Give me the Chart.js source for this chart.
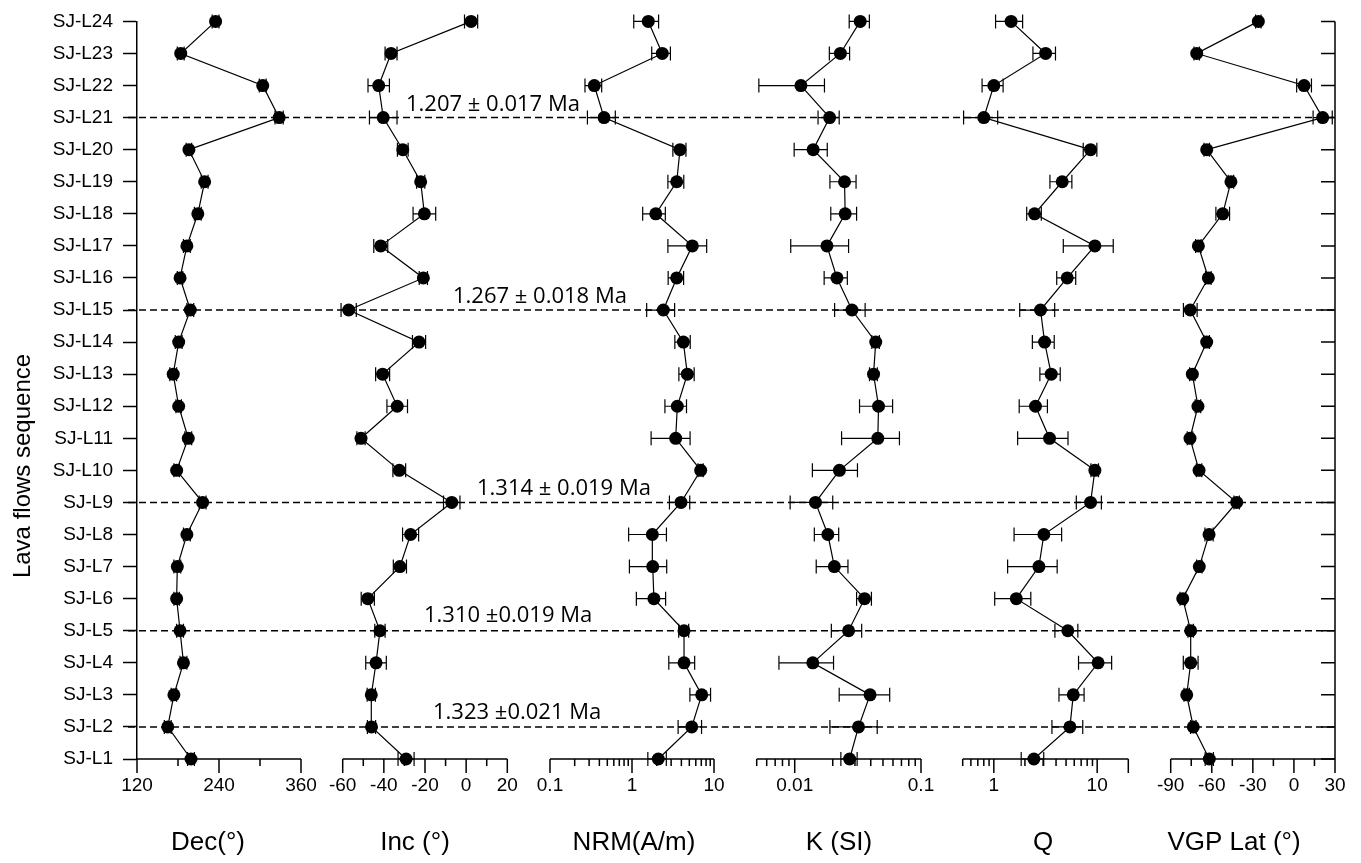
<!DOCTYPE html>
<html>
<head>
<meta charset="utf-8">
<script src="https://cdn.jsdelivr.net/npm/chart.js@4.4.1/dist/chart.umd.min.js"></script>
<style>
  html, body { margin: 0; padding: 0; background: #fff; }
  canvas { display: block; }
</style>
</head>
<body>
<canvas id="chart" width="1361" height="863"></canvas>
<script>
// ===== Datos: secuencia de flujos (de abajo hacia arriba) =====
const flows = ['SJ-L1', 'SJ-L2', 'SJ-L3', 'SJ-L4', 'SJ-L5', 'SJ-L6', 'SJ-L7', 'SJ-L8',
  'SJ-L9', 'SJ-L10', 'SJ-L11', 'SJ-L12', 'SJ-L13', 'SJ-L14', 'SJ-L15', 'SJ-L16',
  'SJ-L17', 'SJ-L18', 'SJ-L19', 'SJ-L20', 'SJ-L21', 'SJ-L22', 'SJ-L23', 'SJ-L24'];

const dec    = [199, 165, 174, 188, 183, 178, 179, 193, 216, 178, 195, 181, 173, 181, 198, 183, 193, 209, 219, 196, 328, 304, 184, 235];
const decErr = [5, 5, 4, 5, 5, 4, 5, 5, 5, 4, 5, 4, 5, 5, 5, 4, 5, 5, 5, 4, 6, 5, 5, 5];

const inc    = [-29.2, -46, -46.1, -43.8, -41.9, -47.8, -32.2, -27, -7, -32.5, -51.1, -33.5, -40.6, -22.9, -57.1, -20.8, -41.5, -20.3, -22.1, -30.8, -40.3, -42.5, -36.5, 2.4];
const incErr = [3.9, 2, 2, 5, 2.5, 3.2, 3.2, 3.9, 4, 3.1, 2, 5, 3.4, 3.2, 3.7, 2, 3.4, 5.5, 2, 2.6, 6.7, 5.2, 2.9, 3.2];

const nrm    = [2.09, 5.35, 7.08, 4.31, 4.31, 1.85, 1.79, 1.77, 3.96, 6.88, 3.41, 3.57, 4.73, 4.23, 2.41, 3.51, 5.44, 1.95, 3.51, 3.85, 0.456, 0.347, 2.34, 1.58];
const nrmErr = [0.53, 1.7, 2, 1.5, 0.6, 0.72, 0.86, 0.86, 1.1, 0.5, 1.7, 1.05, 1.0, 0.9, 0.9, 0.75, 2.7, 0.6, 0.77, 0.7, 0.17, 0.08, 0.6, 0.53];

const kSI    = [0.0272, 0.032, 0.0395, 0.0139, 0.0267, 0.0357, 0.0206, 0.0183, 0.0146, 0.0226, 0.0455, 0.0461, 0.0421, 0.0438, 0.0284, 0.0216, 0.018, 0.0251, 0.0248, 0.014, 0.0189, 0.0112, 0.023, 0.033];
const kErr   = [0.004, 0.013, 0.017, 0.0064, 0.0072, 0.0048, 0.0058, 0.004, 0.0054, 0.0088, 0.022, 0.0135, 0.003, 0.003, 0.0077, 0.0045, 0.0087, 0.0058, 0.0058, 0.0041, 0.0036, 0.006, 0.0042, 0.006];

const qRatio = [2.44, 5.45, 5.87, 10.2, 5.2, 1.65, 2.73, 3.05, 8.63, 9.5, 3.46, 2.53, 3.59, 3.1, 2.83, 5.13, 9.5, 2.48, 4.59, 8.63, 0.8, 1.0, 3.17, 1.47];
const qErr   = [0.6, 1.8, 1.6, 3.6, 1.3, 0.63, 1.37, 1.48, 2.35, 0.8, 1.76, 0.77, 0.8, 0.74, 1.05, 1.07, 4.8, 0.4, 1.1, 1.3, 0.29, 0.23, 0.78, 0.43];

const vgp    = [-61.8, -73.5, -78.3, -75.4, -75.4, -81.2, -69.1, -62, -41.8, -69.3, -75.9, -70.1, -74.2, -63.7, -75.7, -62.5, -69.8, -52, -46, -63.7, 21, 7.4, -71, -26];
const vgpErr = [3, 2, 2, 5.4, 2, 2, 2, 3, 2, 2, 2, 2, 2, 2, 5, 2, 2, 5, 2, 2, 7, 5.4, 2, 2];

// marcas de los ejes
const decTicks = [120, 180, 240, 300, 360];
const decLabels = [120, 240, 360];
const incTicks = [-60, -50, -40, -30, -20, -10, 0, 10, 20];
const incLabels = [-60, -40, -20, 0, 20];
const nrmTicks = [0.1, 0.2, 0.3, 0.4, 0.5, 0.6, 0.7, 0.8, 0.9, 1, 2, 3, 4, 5, 6, 7, 8, 9, 10];
const nrmLabels = [0.1, 1, 10];
const kTicks = [0.005, 0.006, 0.007, 0.008, 0.009, 0.01, 0.02, 0.03, 0.04, 0.05, 0.06, 0.07, 0.08, 0.09, 0.1];
const kLabels = [0.01, 0.1];
const qTicks = [0.5, 0.6, 0.7, 0.8, 0.9, 1, 2, 3, 4, 5, 6, 7, 8, 9, 10, 20];
const qLabels = [1, 10];
const vgpTicks = [-90, -75, -60, -45, -30, -15, 0, 15, 30];
const vgpLabels = [-90, -60, -30, 0, 30];

// edades
const ageFlows = ['SJ-L21', 'SJ-L15', 'SJ-L9', 'SJ-L5', 'SJ-L2'];
const ageTexts = ['1.207 ± 0.017 Ma', '1.267 ± 0.018 Ma', '1.314 ± 0.019 Ma', '1.310 ±0.019 Ma', '1.323 ±0.021 Ma'];

// ===== Disposición (píxeles) =====
const ageTextPos = [[406, 7], [453, 7], [477, 7], [424, 9], [433, 8]];
const panels = [
  { id: 'xDec', title: 'Dec(°)',     log: false, vals: dec,    errs: decErr, ticks: decTicks, labels: decLabels, long: decLabels, px: [137, 301],     seg: [137, 322],  titleX: 208 },
  { id: 'xInc', title: 'Inc (°)',    log: false, vals: inc,    errs: incErr, ticks: incTicks, labels: incLabels, long: incLabels, px: [342.7, 507.3], seg: [322, 528],  titleX: 415 },
  { id: 'xNrm', title: 'NRM(A/m)',   log: true,  vals: nrm,    errs: nrmErr, ticks: nrmTicks, labels: nrmLabels, long: nrmLabels, px: [550, 714],     seg: [528, 735],  titleX: 634 },
  { id: 'xK',   title: 'K (SI)',     log: true,  vals: kSI,    errs: kErr,   ticks: kTicks,   labels: kLabels,   long: kLabels,   px: [756.7, 921],   seg: [735, 942],  titleX: 839 },
  { id: 'xQ',   title: 'Q',          log: true,  vals: qRatio, errs: qErr,   ticks: qTicks,   labels: qLabels,   long: [1, 10, 20], px: [962.7, 1128.3], seg: [942, 1150], titleX: 1043 },
  { id: 'xVgp', title: 'VGP Lat (°)', log: false, vals: vgp,   errs: vgpErr, ticks: vgpTicks, labels: vgpLabels, long: vgpLabels, px: [1170.7, 1335], seg: [1150, 1335], titleX: 1234 }
];

const FONT = '"Liberation Sans", Arial, sans-serif';

function axisRange(p) {
  const lo = p.ticks[0], hi = p.ticks[p.ticks.length - 1];
  const f = p.log ? Math.log10 : (v => v);
  const k = (f(hi) - f(lo)) / (p.px[1] - p.px[0]);
  const a = f(lo) - (p.px[0] - p.seg[0]) * k;
  const b = f(hi) + (p.seg[1] - p.px[1]) * k;
  return p.log ? [Math.pow(10, a), Math.pow(10, b)] : [a, b];
}

const scales = {
  y: {
    type: 'category',
    labels: flows,
    reverse: true,
    offset: false,
    position: 'left',
    border: { display: true, color: '#000', width: 1.5 },
    grid: { drawOnChartArea: false, tickLength: 14, tickColor: '#000', tickWidth: 1.5 },
    ticks: { autoSkip: false, padding: 10, color: '#000', font: { family: FONT, size: 19 } },
    afterFit: s => { s.width = 137; }
  }
};

panels.forEach(p => {
  const [min, max] = axisRange(p);
  scales[p.id] = {
    type: p.log ? 'logarithmic' : 'linear',
    position: 'bottom',
    stack: 'panels',
    stackWeight: p.seg[1] - p.seg[0],
    bounds: 'data',
    min, max,
    border: { display: false },
    grid: { drawOnChartArea: false, drawTicks: true, tickLength: 14, tickColor: 'rgba(0,0,0,0)' },
    ticks: {
      autoSkip: false, maxRotation: 0, padding: 1, color: '#000',
      font: { family: FONT, size: 19 },
      callback: v => p.labels.includes(v) ? String(v) : ''
    },
    afterBuildTicks: s => { s.ticks = p.ticks.map(v => ({ value: v })); },
    afterFit: s => { s.height = 104; }
  };
});

const datasets = panels.map(p => ({
  data: p.vals.map((v, i) => ({ x: v, y: flows[i] })),
  xAxisID: p.id,
  yAxisID: 'y',
  showLine: true,
  borderColor: '#000',
  borderWidth: 1.2,
  pointRadius: 6.5,
  pointBackgroundColor: '#000',
  pointBorderWidth: 0,
  clip: false
}));

// ===== Plugin: líneas de edad, barras de error, ejes y títulos =====
const decor = {
  id: 'decor',
  beforeDatasetsDraw(chart) {
    const { ctx, chartArea: a, scales: sc } = chart;
    const y = sc.y;
    ctx.save();
    ctx.strokeStyle = '#000';
    // líneas discontinuas
    ctx.lineWidth = 1.5;
    ctx.setLineDash([7, 4]);
    ageFlows.forEach(f => {
      const py = y.getPixelForValue(flows.indexOf(f));
      ctx.beginPath();
      ctx.moveTo(128, py);
      ctx.lineTo(a.right + 2, py);
      ctx.stroke();
    });
    // barras de error
    ctx.setLineDash([]);
    ctx.lineWidth = 1.2;
    panels.forEach(p => {
      const s = sc[p.id];
      p.vals.forEach((v, i) => {
        const e = p.errs[i];
        const lo = p.log ? Math.max(v - e, s.min) : v - e;
        const x0 = s.getPixelForValue(lo), x1 = s.getPixelForValue(v + e);
        const py = y.getPixelForValue(i);
        ctx.beginPath();
        ctx.moveTo(x0, py); ctx.lineTo(x1, py);
        ctx.moveTo(x0, py - 7); ctx.lineTo(x0, py + 7);
        ctx.moveTo(x1, py - 7); ctx.lineTo(x1, py + 7);
        ctx.stroke();
      });
    });
    ctx.restore();
  },
  afterDraw(chart) {
    const { ctx, chartArea: a, scales: sc } = chart;
    const y = sc.y;
    ctx.save();
    ctx.strokeStyle = '#000';
    ctx.fillStyle = '#000';
    ctx.lineWidth = 1.5;
    // ejes x de cada panel
    panels.forEach(p => {
      const s = sc[p.id];
      ctx.beginPath();
      ctx.moveTo(s.getPixelForValue(p.ticks[0]), a.bottom);
      ctx.lineTo(s.getPixelForValue(p.ticks[p.ticks.length - 1]), a.bottom);
      p.ticks.forEach(v => {
        const px = s.getPixelForValue(v);
        ctx.moveTo(px, a.bottom);
        ctx.lineTo(px, a.bottom + (p.long.includes(v) ? 14 : 7));
      });
      ctx.stroke();
    });
    // eje derecho con marcas hacia dentro
    ctx.beginPath();
    ctx.moveTo(a.right, a.top);
    ctx.lineTo(a.right, a.bottom);
    flows.forEach((f, i) => {
      const py = y.getPixelForValue(i);
      ctx.moveTo(a.right - 14, py);
      ctx.lineTo(a.right, py);
    });
    ctx.stroke();
    // títulos
    ctx.font = '26px ' + FONT;
    ctx.textAlign = 'center';
    ctx.textBaseline = 'alphabetic';
    panels.forEach(p => ctx.fillText(p.title, p.titleX, 850));
    ctx.save();
    ctx.translate(23, 466);
    ctx.rotate(-Math.PI / 2);
    ctx.textBaseline = 'middle';
    ctx.font = '24px ' + FONT;
    ctx.fillText('Lava flows sequence', 0, 0);
    ctx.restore();
    // etiquetas de edad
    ctx.font = '22px "Open Sans", sans-serif';
    ctx.textAlign = 'left';
    ctx.textBaseline = 'alphabetic';
    ageFlows.forEach((f, k) => {
      const py = y.getPixelForValue(flows.indexOf(f));
      ctx.fillText(ageTexts[k], ageTextPos[k][0], py - ageTextPos[k][1]);
    });
    ctx.restore();
  }
};

new Chart(document.getElementById('chart'), {
  type: 'scatter',
  data: { datasets },
  options: {
    responsive: false,
    animation: false,
    layout: { padding: { left: 0, right: 26, top: 19, bottom: 0 } },
    plugins: { legend: { display: false }, tooltip: { enabled: false } },
    scales
  },
  plugins: [decor]
});
</script>
</body>
</html>
